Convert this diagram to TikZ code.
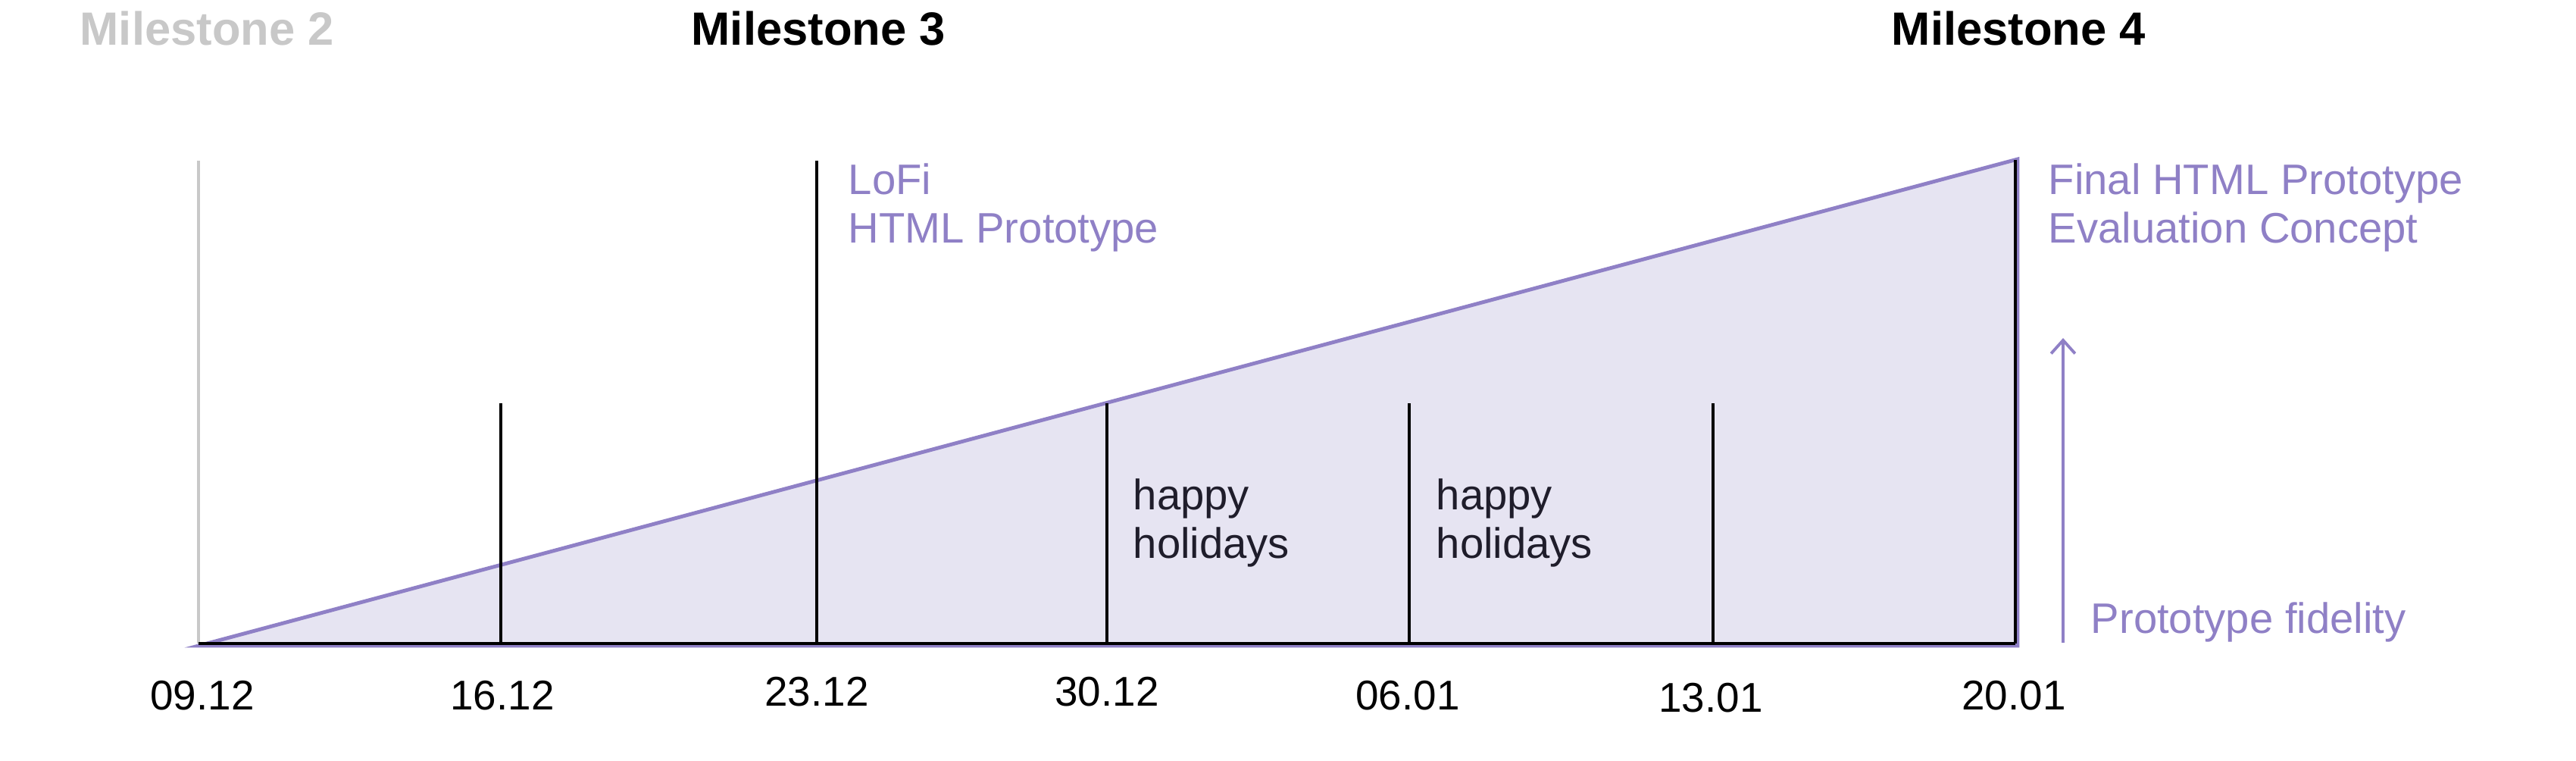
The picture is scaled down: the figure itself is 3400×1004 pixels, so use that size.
\documentclass[tikz,border=0pt]{standalone}
\usepackage{fontspec}
\setmainfont{Liberation Sans}
\usetikzlibrary{arrows.meta, positioning}
\definecolor{fidpurple}{RGB}{143,128,198}
\definecolor{fidfill}{RGB}{230,228,242}
\definecolor{msgray}{RGB}{200,200,200}
\definecolor{inkdark}{RGB}{31,29,43}

\begin{document}
\begin{tikzpicture}[
    x=0.01cm, y=-0.01cm,
    milestone/.style={font=\fontsize{17.5}{21}\selectfont\bfseries, anchor=base west, inner sep=0pt},
    deliverable/.style={font=\fontsize{16}{18.2}\selectfont, text=fidpurple, align=left, anchor=north west, inner sep=0pt},
    note/.style={font=\fontsize{16}{18.2}\selectfont, text=inkdark, align=left, anchor=north west, inner sep=0pt},
    datelabel/.style={font=\fontsize{15.6}{18}\selectfont, anchor=base, inner sep=0pt},
    weekline/.style={line width=1.15pt, black},
    fidelity/.style={line width=1.4pt, draw=fidpurple, fill=fidfill, line join=miter},
    fidarrow/.style={line width=1.1pt, fidpurple, -{Straight Barb[length=5pt, width=9pt]}}
]
    \useasboundingbox (0,0) rectangle (3400,1004);

    % week ticks on the time axis
    \coordinate (d0) at (262,849);   \coordinate (t0) at (262,212);
    \coordinate (d1) at (661,849);   \coordinate (t1) at (661,532);
    \coordinate (d2) at (1078,849);  \coordinate (t2) at (1078,212);
    \coordinate (d3) at (1461,849);  \coordinate (t3) at (1461,532);
    \coordinate (d4) at (1860,849);  \coordinate (t4) at (1860,532);
    \coordinate (d5) at (2261,849);  \coordinate (t5) at (2261,532);
    \coordinate (d6) at (2660,849);  \coordinate (t6) at (2660,211);

    % fidelity wedge
    \path [fidelity] (262,852) -- (2663,210) -- (2663,852) -- cycle;

    \draw [line width=1.15pt, msgray] (d0) -- (t0);
    \draw [weekline] (d1) -- (t1);
    \draw [weekline] (d2) -- (t2);
    \draw [weekline] (d3) -- (t3);
    \draw [weekline] (d4) -- (t4);
    \draw [weekline] (d5) -- (t5);
    \draw [weekline] (d6) -- (t6);
    \draw [weekline] (d0) -- (d6);

    % milestones
    \node [milestone, text=msgray] (ms2) at (105,60) {Milestone 2};
    \node [milestone] (ms3) at (912,60) {Milestone 3};
    \node [milestone] (ms4) at (2496,60) {Milestone 4};

    % deliverables
    \node [deliverable] (lofi) at (1119,215) {LoFi\\HTML Prototype};
    \node [deliverable] (final) at (2703,215) {Final HTML Prototype\\Evaluation Concept};

    \node [note] (hol1) at (1495,631) {happy\\holidays};
    \node [note] (hol2) at (1895,631) {happy\\holidays};

    % dates
    \node [datelabel] (l0) at (267,936) {09.12};
    \node [datelabel] (l1) at (663,936) {16.12};
    \node [datelabel] (l2) at (1078,932) {23.12};
    \node [datelabel] (l3) at (1461,932) {30.12};
    \node [datelabel] (l4) at (1858,936) {06.01};
    \node [datelabel] (l5) at (2258,940) {13.01};
    \node [datelabel] (l6) at (2658,936) {20.01};

    % fidelity axis
    \coordinate (fidlow) at (2723,848);
    \coordinate (fidhigh) at (2723,446);
    \draw [fidarrow] (fidlow) -- (fidhigh);
    \node [font=\fontsize{16}{18.2}\selectfont, text=fidpurple, anchor=base west, inner sep=0pt] (fidlabel) at (2759,836) {Prototype fidelity};
\end{tikzpicture}
\end{document}
